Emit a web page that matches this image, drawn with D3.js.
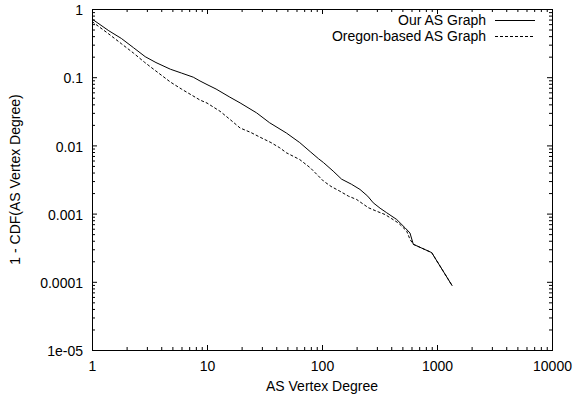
<!DOCTYPE html>
<html>
<head>
<meta charset="utf-8">
<script src="https://cdnjs.cloudflare.com/ajax/libs/d3/7.8.5/d3.min.js"></script>
<style>
  body { margin: 0; background: #fff; }
  svg text { font-family: "Liberation Sans", Arial, Helvetica, sans-serif; font-size: 14px; fill: #000; }
</style>
</head>
<body>
<svg id="chart" width="573" height="396"></svg>
<script>
// values (degree, 1 - CDF)
var ourDegree = [1, 1.4, 1.8, 2.3, 2.9, 3.6, 4.8, 6, 7.6, 8.7, 10, 12, 15.8, 19.4, 27, 35, 49, 64, 79, 93, 103, 125, 148, 180, 214, 250, 279, 320, 365, 446, 527, 582, 622, 899, 1358];
var ourValue = [0.714, 0.48, 0.37, 0.27, 0.2, 0.164, 0.131, 0.115, 0.1, 0.088, 0.078, 0.067, 0.051, 0.042, 0.030, 0.0215, 0.0152, 0.011, 0.0081, 0.0064, 0.0056, 0.0042, 0.0032, 0.0027, 0.00226, 0.0018, 0.00144, 0.0012, 0.00103, 0.00082, 0.00062, 0.00052, 0.000355, 0.000268, 0.0000871];

var oregonDegree = [1, 1.4, 1.8, 2.3, 2.87, 3.6, 4.8, 6, 8.7, 10, 13, 16, 19.4, 24, 28.9, 36, 43, 49, 64, 79, 103, 120, 143, 170, 200, 253, 300, 353, 400, 461, 545, 582, 622, 899, 1358];
var oregonValue = [0.655, 0.43, 0.31, 0.225, 0.165, 0.123, 0.085, 0.067, 0.0462, 0.0418, 0.0316, 0.0237, 0.018, 0.0155, 0.0132, 0.011, 0.0092, 0.0078, 0.0062, 0.0047, 0.003, 0.0025, 0.00213, 0.0018, 0.00161, 0.00122, 0.00108, 0.00097, 0.00085, 0.00073, 0.000555, 0.00042, 0.000355, 0.000268, 0.0000871];

var seriesNames = ['Our AS Graph', 'Oregon-based AS Graph'];

var xTicks = [1, 10, 100, 1000, 10000];
var xTickLabels = ['1', '10', '100', '1000', '10000'];
var yTicks = [1, 0.1, 0.01, 0.001, 0.0001, 0.00001];
var yTickLabels = ['1', '0.1', '0.01', '0.001', '0.0001', '1e-05'];

var plotLeft = 92, plotRight = 552, plotTop = 9, plotBottom = 350;

var svg = d3.select('#chart');
var x = d3.scaleLog().domain([1, 10000]).range([plotLeft, plotRight]);
var y = d3.scaleLog().domain([0.00001, 1]).range([plotBottom, plotTop]);

// minor ticks at 2..9 of every decade
function minors(lo, hi) {
  var out = [];
  for (var p = lo; p < hi; p++) {
    for (var k = 2; k <= 9; k++) out.push(k * Math.pow(10, p));
  }
  return out;
}
var xMinor = minors(0, 4);
var yMinor = minors(-5, 0);

function drawAxis(axis, tx, ty) {
  var g = svg.append('g').attr('transform', 'translate(' + tx + ',' + ty + ')').call(axis);
  g.select('.domain').remove();
  g.attr('font-size', null).attr('font-family', null);
  g.selectAll('text').attr('fill', '#000');
  return g;
}

// major ticks with labels (inward)
var gx = drawAxis(d3.axisBottom(x).tickValues(xTicks).tickFormat(function(d, i){ return xTickLabels[i]; })
  .tickSizeInner(-5).tickSizeOuter(0).tickPadding(11), 0, plotBottom);
var gy = drawAxis(d3.axisLeft(y).tickValues(yTicks).tickFormat(function(d, i){ return yTickLabels[i]; })
  .tickSizeInner(-5).tickSizeOuter(0).tickPadding(9), plotLeft, 0);
gy.selectAll('text').attr('dy', '0.4em');

// mirrored major ticks
drawAxis(d3.axisTop(x).tickValues(xTicks).tickFormat('').tickSizeInner(-5).tickSizeOuter(0), 0, plotTop);
drawAxis(d3.axisRight(y).tickValues(yTicks).tickFormat('').tickSizeInner(-5).tickSizeOuter(0), plotRight, 0);

// minor ticks on all four sides
drawAxis(d3.axisBottom(x).tickValues(xMinor).tickFormat('').tickSizeInner(-3).tickSizeOuter(0), 0, plotBottom);
drawAxis(d3.axisTop(x).tickValues(xMinor).tickFormat('').tickSizeInner(-3).tickSizeOuter(0), 0, plotTop);
drawAxis(d3.axisLeft(y).tickValues(yMinor).tickFormat('').tickSizeInner(-3).tickSizeOuter(0), plotLeft, 0);
drawAxis(d3.axisRight(y).tickValues(yMinor).tickFormat('').tickSizeInner(-3).tickSizeOuter(0), plotRight, 0);

// frame
svg.append('rect')
  .attr('x', plotLeft + 0.5).attr('y', plotTop + 0.5)
  .attr('width', plotRight - plotLeft).attr('height', plotBottom - plotTop)
  .attr('fill', 'none').attr('stroke', '#000').attr('stroke-width', 1);

// curves
var line = d3.line()
  .x(function(d){ return x(d[0]); })
  .y(function(d){ return y(d[1]); });

var ourData = d3.zip(ourDegree, ourValue);
var oregonData = d3.zip(oregonDegree, oregonValue);

svg.append('path').datum(oregonData)
  .attr('d', line).attr('fill', 'none').attr('stroke', '#000')
  .attr('stroke-width', 1).attr('stroke-dasharray', '3,2');
svg.append('path').datum(ourData)
  .attr('d', line).attr('fill', 'none').attr('stroke', '#000')
  .attr('stroke-width', 1);

// legend
var legendY = [20, 36];
seriesNames.forEach(function(name, i){
  svg.append('text').attr('x', 486).attr('y', legendY[i] + 4.5)
    .attr('text-anchor', 'end').text(name);
  svg.append('line')
    .attr('x1', 495).attr('x2', 535)
    .attr('y1', legendY[i] + 0.5).attr('y2', legendY[i] + 0.5)
    .attr('stroke', '#000').attr('stroke-width', 1)
    .attr('stroke-dasharray', i == 1 ? '3,2' : null);
});

// axis titles
svg.append('text').attr('x', (plotLeft + plotRight) / 2).attr('y', 391)
  .attr('text-anchor', 'middle').text('AS Vertex Degree');
svg.append('text').attr('transform', 'translate(20,' + ((plotTop + plotBottom) / 2) + ') rotate(-90)')
  .attr('text-anchor', 'middle').text('1 - CDF(AS Vertex Degree)');
</script>
</body>
</html>
